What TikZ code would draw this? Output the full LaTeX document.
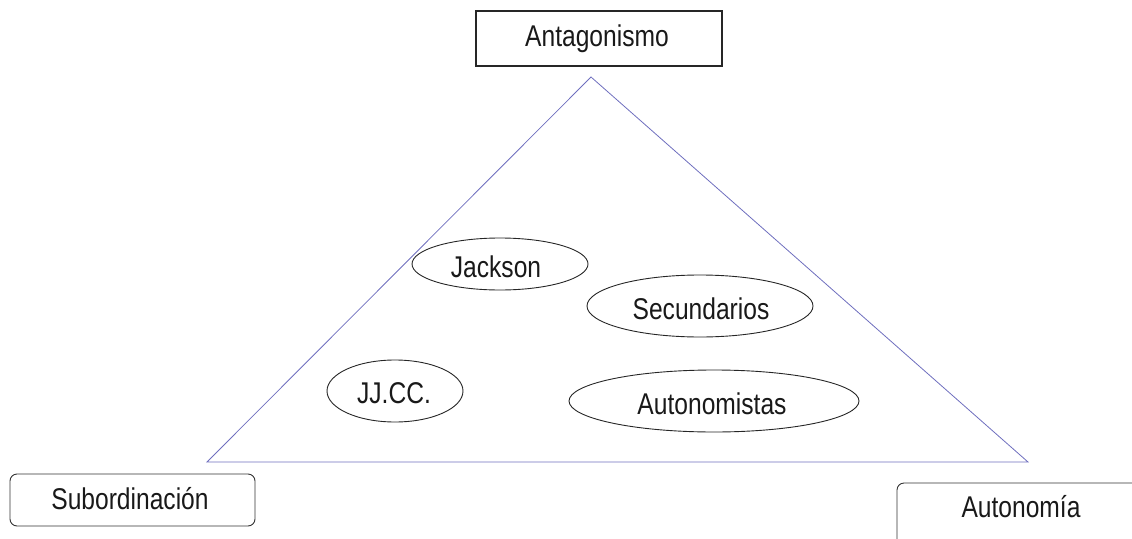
\documentclass[tikz,border=0pt]{standalone}
\usepackage{fontspec}
\setmainfont[FakeStretch=0.82]{Liberation Sans}
\usetikzlibrary{shapes.geometric}
\begin{document}
\begin{tikzpicture}[x=1pt,y=-1pt,
  lbl/.style={font=\fontsize{30}{33}\selectfont, inner sep=0pt, text=black!90},
  sqbox/.style={draw=black!85, line width=1.3pt},
  rbox/.style={draw=black!80, line width=0.9pt, rounded corners=7pt},
  ell/.style={draw=black!85, line width=0.9pt},
  tri/.style={draw={rgb,255:red,110;green,110;blue,190}, line width=0.8pt}]
\useasboundingbox (0,0) rectangle (1132,538);
\clip (0,0) rectangle (1132,538);
% triangle
\coordinate (apex) at (591,77);
\coordinate (bl) at (207,462);
\coordinate (br) at (1028,462);
\draw[tri] (bl) -- (apex) -- (br) -- cycle;
% boxes
\draw[sqbox] (476,11) rectangle (722,66);
\node[lbl] (ant) at (597,39) {Antagonismo};
\draw[rbox] (10,474) rectangle (255,526);
\node[lbl] (sub) at (130,499) {Subordinación};
\draw[rbox] (897,483) rectangle (1150,560);
\node[lbl] (aut) at (1021,507) {Autonomía};
% ellipses
\draw[ell] (500,264) ellipse [x radius=88, y radius=26];
\node[lbl] (jack) at (496,267) {Jackson};
\draw[ell] (700,306) ellipse [x radius=113, y radius=31];
\node[lbl] (sec) at (701,309) {Secundarios};
\draw[ell] (395,391) ellipse [x radius=68, y radius=31];
\node[lbl] (jjcc) at (394,393) {JJ.CC.};
\draw[ell] (714,401) ellipse [x radius=145, y radius=31];
\node[lbl] (autn) at (712,404) {Autonomistas};
\end{tikzpicture}
\end{document}
